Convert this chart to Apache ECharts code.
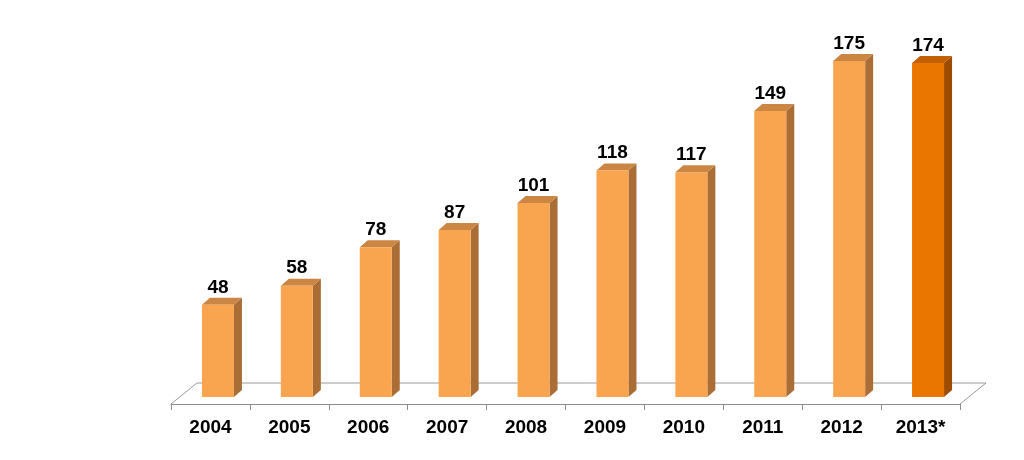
<!DOCTYPE html>
<html>
<head>
<meta charset="utf-8">
<script src="https://cdn.jsdelivr.net/npm/echarts@6/dist/echarts.min.js"></script>
<style>
html,body{margin:0;padding:0;background:#fff;}
#chart{width:1024px;height:460px;}
</style>
</head>
<body>
<div id="chart"></div>
<script>
const years = ['2004','2005','2006','2007','2008','2009','2010','2011','2012','2013*'];
const values = [48, 58, 78, 87, 101, 118, 117, 149, 175, 174];
const estimated = [false,false,false,false,false,false,false,false,false,true];

const normalColors = {front:'#F9A54F', top:'#CB8643', side:'#A96D35'};
const estColors = {front:'#EA7600', top:'#C25F00', side:'#9C4B00'};

const FONT = '"Liberation Sans", Arial, sans-serif';
const BAR_W = 32, BAR_DX = 8, BAR_DY = -7;   // bar box size / depth
const OFF_X = 7.5, OFF_Y = -7;               // bar placement inside floor depth
const FLOOR_DX = 26, FLOOR_DY = -21;         // floor depth

const chart = echarts.init(document.getElementById('chart'));

function renderBar(params, api) {
  const idx = api.value(0), val = api.value(1);
  const base = api.coord([idx, 0]);
  const top = api.coord([idx, val]);
  const cx = base[0] + OFF_X;
  const xl = cx - BAR_W / 2, xr = cx + BAR_W / 2;
  const yb = base[1] + OFF_Y, yt = top[1] + OFF_Y;
  const c = estimated[params.dataIndex] ? estColors : normalColors;
  return {
    type: 'group',
    children: [
      {type:'polygon', shape:{points:[[xr,yt],[xr+BAR_DX,yt+BAR_DY],[xr+BAR_DX,yb+BAR_DY],[xr,yb]]}, style:{fill:c.side}},
      {type:'polygon', shape:{points:[[xl,yt],[xl+BAR_DX,yt+BAR_DY],[xr+BAR_DX,yt+BAR_DY],[xr,yt]]}, style:{fill:c.top}},
      {type:'rect', shape:{x:xl, y:yt, width:BAR_W, height:yb-yt}, style:{fill:c.front}},
      {type:'text', x: cx, y: yt + BAR_DY - 1,
        style:{text:String(val), fill:'#000', font:'bold 19px ' + FONT, align:'center', verticalAlign:'bottom'}}
    ]
  };
}

function renderFloor(params, api) {
  const bw = api.size([1, 0])[0];
  const p0 = api.coord([0, 0]);
  const p1 = api.coord([years.length - 1, 0]);
  const l = p0[0] - bw / 2, r = p1[0] + bw / 2, y = p0[1];
  return {
    type: 'polyline',
    shape: {points:[[l,y],[l+FLOOR_DX,y+FLOOR_DY],[r+FLOOR_DX,y+FLOOR_DY],[r,y]]},
    style: {stroke:'#9a9a9a', lineWidth:1, fill:null}
  };
}

chart.setOption({
  animation: false,
  grid: {left: 171, right: 64, bottom: 56, top: 20},
  xAxis: {
    type: 'category',
    data: years,
    boundaryGap: true,
    axisLine: {lineStyle: {color: '#8c8c8c', width: 1}},
    axisTick: {show: true, length: 6, lineStyle: {color: '#8c8c8c'}},
    axisLabel: {color: '#000', fontSize: 19, fontWeight: 'bold', fontFamily: FONT, margin: 14}
  },
  yAxis: {type: 'value', min: 0, max: 200, show: false, splitLine: {show: false}},
  series: [
    {type: 'custom', renderItem: renderFloor, data: [[0, 0]], z: 1, silent: true},
    {type: 'custom', renderItem: renderBar, data: values.map((v, i) => [i, v]), z: 2}
  ]
});
</script>
</body>
</html>
